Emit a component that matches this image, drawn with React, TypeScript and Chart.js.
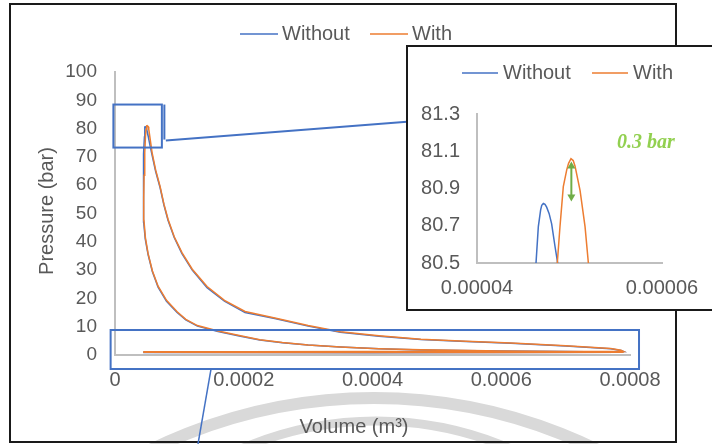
import React, { useEffect, useRef } from "react";
import { Chart, registerables } from "chart.js";

Chart.register(...registerables);

// ---------- Data ----------
const withoutVolume = [
  0.00079, 0.0007, 0.0006, 0.00053, 0.000475, 0.00041, 0.00035, 0.0003, 0.00026, 0.000225, 0.000195, 0.00016,
  0.000128, 0.00011, 0.0000965, 0.00008, 0.0000669, 0.000058, 0.0000514, 0.000047, 0.0000445, 0.0000438,
  0.0000442, 0.000045, 0.0000457, 0.0000462,
  0.00004638, 0.00004663, 0.00004688, 0.000047, 0.00004717, 0.00004735, 0.00004753, 0.0000478, 0.00004807,
  0.00004843, 0.00004872,
  0.0000492, 0.000051, 0.000054, 0.0000571, 0.000063, 0.00007, 0.000076, 0.0000825, 0.000092, 0.000104,
  0.00012, 0.000143, 0.00017, 0.000202, 0.00025, 0.0003, 0.00035, 0.00041, 0.000475, 0.000545, 0.000615,
  0.0007, 0.00077, 0.000786, 0.00079,
  0.0006, 0.0004, 0.0002, 0.000045,
  0.000045, 0.0002, 0.0004, 0.0006, 0.00079,
];
const withoutPressure = [
  1.0, 1.2, 1.4, 1.6, 1.8, 2.2, 2.8, 3.5, 4.3, 5.3, 6.6, 8.3,
  10.2, 12.4, 15.0, 19.0, 24.0, 29.5, 35.5, 41.0, 47.0, 55.0,
  63.0, 71.0, 77.0, 79.8,
  80.5, 80.695, 80.785, 80.81, 80.82, 80.815, 80.8, 80.765, 80.71,
  80.59, 80.5,
  80.0, 78.0, 74.5, 71.2, 65.0, 59.2, 53.0, 47.5, 41.5, 35.8,
  30.0, 23.8, 19.0, 15.0, 12.8, 10.2, 8.0, 6.6, 5.5, 4.8, 4.15,
  3.2, 2.2, 1.6, 1.2,
  1.15, 1.15, 1.1, 1.1,
  0.9, 0.85, 0.8, 0.85, 0.95,
];

const withVolume = [
  0.00079, 0.0007, 0.0006, 0.00053, 0.000475, 0.00041, 0.00035, 0.0003, 0.00026, 0.000225, 0.000195, 0.00016,
  0.000128, 0.00011, 0.0000965, 0.00008, 0.0000669, 0.000058, 0.0000514, 0.0000472, 0.000045, 0.0000446,
  0.0000452, 0.0000462, 0.0000474, 0.0000482,
  0.00004868, 0.00004897, 0.00004933, 0.0000497, 0.0000499, 0.00005016, 0.0000504, 0.0000506, 0.00005114,
  0.00005168, 0.00005204,
  0.0000528, 0.0000548, 0.0000575, 0.0000632, 0.00007, 0.000076, 0.0000825, 0.000092, 0.000104,
  0.00012, 0.000143, 0.00017, 0.000202, 0.00025, 0.0003, 0.00035, 0.00041, 0.000475, 0.000545, 0.000615,
  0.0007, 0.00077, 0.000786, 0.00079,
  0.0006, 0.0004, 0.0002, 0.000045,
  0.000045, 0.0002, 0.0004, 0.0006, 0.00079,
];
const withPressure = [
  1.0, 1.2, 1.45, 1.65, 1.85, 2.25, 2.85, 3.55, 4.4, 5.4, 6.8, 8.5,
  10.4, 12.6, 15.3, 19.3, 24.3, 29.8, 35.8, 41.5, 47.5, 55.5,
  63.5, 71.5, 77.5, 79.8,
  80.5, 80.695, 80.91, 81.0, 81.035, 81.06, 81.05, 81.02, 80.89,
  80.695, 80.5,
  79.8, 76.0, 71.6, 65.3, 59.6, 53.3, 47.9, 41.8, 36.2,
  30.3, 24.2, 19.3, 15.4, 13.0, 10.4, 8.2, 6.8, 5.6, 4.9, 4.25,
  3.3, 2.3, 1.7, 1.25,
  1.2, 1.2, 1.15, 1.15,
  0.95, 0.9, 0.85, 0.9, 1.0,
];

const seriesNames = ["Without", "With"];
const seriesColors = ["#4472C4", "#ED7D31"];

const mainXTicks = [0, 0.0002, 0.0004, 0.0006, 0.0008];
const mainXTickLabels = ["0", "0.0002", "0.0004", "0.0006", "0.0008"];
const mainYTicks = [0, 10, 20, 30, 40, 50, 60, 70, 80, 90, 100];
const mainYTickLabels = ["0", "10", "20", "30", "40", "50", "60", "70", "80", "90", "100"];

const insetXTicks = [0.00004, 0.00006];
const insetXTickLabels = ["0.00004", "0.00006"];
const insetYTicks = [80.5, 80.7, 80.9, 81.1, 81.3];
const insetYTickLabels = ["80.5", "80.7", "80.9", "81.1", "81.3"];

const xTitle = "Volume (m³)";
const yTitle = "Pressure (bar)";
const diffLabel = "0.3 bar";
// arrow between the two peaks (volume, top pressure, bottom pressure)
const arrowVolume = 0.0000502;
const arrowTop = 81.045;
const arrowBottom = 80.83;

// zoom boxes in data coordinates
const peakBox = { v0: -0.0000025, v1: 0.0000728, p0: 73.3, p1: 88.5 };
const lowBox = { v0: -0.0000068, v1: 0.000814, p0: -4.95, p1: 8.83 };

const FONT = "'Liberation Sans', Arial, sans-serif";
const TEXT = "#595959";
const AXIS = "#BFBFBF";
const BOX = "#4472C4";

function zip(v: number[], p: number[]) {
  return v.map((x, i) => ({ x, y: p[i] }));
}

function makeDatasets() {
  return [
    {
      label: seriesNames[0],
      data: zip(withoutVolume, withoutPressure),
      showLine: true,
      borderColor: seriesColors[0],
      backgroundColor: seriesColors[0],
      borderWidth: 1.5,
      pointRadius: 0,
      tension: 0,
      order: 1,
    },
    {
      label: seriesNames[1],
      data: zip(withVolume, withPressure),
      showLine: true,
      borderColor: seriesColors[1],
      backgroundColor: seriesColors[1],
      borderWidth: 1.5,
      pointRadius: 0,
      tension: 0,
      order: 0,
    },
  ];
}

function drawLegend(ctx: CanvasRenderingContext2D, y: number, items: { x1: number; x2: number; tx: number }[]) {
  ctx.save();
  ctx.font = `20px ${FONT}`;
  ctx.textBaseline = "middle";
  ctx.textAlign = "left";
  items.forEach((it, i) => {
    ctx.strokeStyle = seriesColors[i];
    ctx.lineWidth = 1.5;
    ctx.beginPath();
    ctx.moveTo(it.x1, y);
    ctx.lineTo(it.x2, y);
    ctx.stroke();
    ctx.fillStyle = TEXT;
    ctx.fillText(seriesNames[i], it.tx, y);
  });
  ctx.restore();
}

const mainDecor = {
  id: "mainDecor",
  beforeDraw(chart: any) {
    const ctx = chart.ctx;
    ctx.save();
    ctx.fillStyle = "#ffffff";
    ctx.fillRect(0, 0, chart.width, chart.height);
    ctx.strokeStyle = "#d9d9d9";
    ctx.lineWidth = 12;
    ctx.beginPath();
    ctx.arc(374, 905, 507, Math.PI, 2 * Math.PI);
    ctx.stroke();
    ctx.lineWidth = 9;
    ctx.beginPath();
    ctx.arc(376, 761, 340, Math.PI, 2 * Math.PI);
    ctx.stroke();
    ctx.restore();
  },
  afterDraw(chart: any) {
    const ctx = chart.ctx;
    const xs = chart.scales.x;
    const ys = chart.scales.y;
    ctx.save();
    // outer frame
    ctx.strokeStyle = "#1a1a1a";
    ctx.lineWidth = 2;
    ctx.strokeRect(10, 4, 666, 438);

    // legend
    drawLegend(ctx, 34, [
      { x1: 240, x2: 278, tx: 282 },
      { x1: 370, x2: 408, tx: 412 },
    ]);

    // axis titles
    ctx.fillStyle = TEXT;
    ctx.font = `20px ${FONT}`;
    ctx.textAlign = "center";
    ctx.textBaseline = "middle";
    ctx.fillText(xTitle, 354, 427);
    ctx.save();
    ctx.translate(47, 211);
    ctx.rotate(-Math.PI / 2);
    ctx.fillText(yTitle, 0, 0);
    ctx.restore();

    // zoom boxes
    ctx.strokeStyle = BOX;
    ctx.lineWidth = 2;
    const bx0 = xs.getPixelForValue(peakBox.v0);
    const bx1 = xs.getPixelForValue(peakBox.v1);
    const by0 = ys.getPixelForValue(peakBox.p1);
    const by1 = ys.getPixelForValue(peakBox.p0);
    ctx.strokeRect(bx0, by0, bx1 - bx0, by1 - by0);
    ctx.beginPath();
    ctx.moveTo(bx1 + 2.5, by0);
    ctx.lineTo(bx1 + 2.5, by1 - 8);
    ctx.stroke();
    ctx.beginPath();
    ctx.moveTo(bx1 + 4, by1 - 7);
    ctx.lineTo(407, 121.7);
    ctx.stroke();

    const lx0 = xs.getPixelForValue(lowBox.v0);
    const lx1 = xs.getPixelForValue(lowBox.v1);
    const ly0 = ys.getPixelForValue(lowBox.p1);
    const ly1 = ys.getPixelForValue(lowBox.p0);
    ctx.strokeRect(lx0, ly0, lx1 - lx0, ly1 - ly0);
    ctx.lineWidth = 1.5;
    ctx.beginPath();
    ctx.moveTo(211, ly1);
    ctx.lineTo(198, 444);
    ctx.stroke();
    ctx.restore();
  },
};

const insetDecor = {
  id: "insetDecor",
  beforeDraw(chart: any) {
    const ctx = chart.ctx;
    ctx.save();
    ctx.fillStyle = "#ffffff";
    ctx.fillRect(0, 0, chart.width, chart.height);
    ctx.restore();
  },
  afterDraw(chart: any) {
    const ctx = chart.ctx;
    const xs = chart.scales.x;
    const ys = chart.scales.y;
    ctx.save();
    ctx.strokeStyle = "#1a1a1a";
    ctx.lineWidth = 2;
    ctx.strokeRect(1, 1, 400, 264);

    drawLegend(ctx, 28, [
      { x1: 56, x2: 92, tx: 97 },
      { x1: 186, x2: 222, tx: 227 },
    ]);

    // arrow
    const ax = xs.getPixelForValue(arrowVolume);
    const at = ys.getPixelForValue(arrowTop);
    const ab = ys.getPixelForValue(arrowBottom);
    ctx.strokeStyle = "#70AD47";
    ctx.fillStyle = "#70AD47";
    ctx.lineWidth = 2;
    ctx.beginPath();
    ctx.moveTo(ax, at + 5);
    ctx.lineTo(ax, ab - 5);
    ctx.stroke();
    ctx.beginPath();
    ctx.moveTo(ax, at);
    ctx.lineTo(ax - 4, at + 7);
    ctx.lineTo(ax + 4, at + 7);
    ctx.closePath();
    ctx.fill();
    ctx.beginPath();
    ctx.moveTo(ax, ab);
    ctx.lineTo(ax - 4, ab - 7);
    ctx.lineTo(ax + 4, ab - 7);
    ctx.closePath();
    ctx.fill();

    ctx.fillStyle = "#92D050";
    ctx.font = `italic bold 20px 'Liberation Serif', 'Times New Roman', serif`;
    ctx.textAlign = "left";
    ctx.textBaseline = "middle";
    ctx.fillText(diffLabel, 211, 98);
    ctx.restore();
  },
};

function axisOptions(
  min: number,
  max: number,
  ticks: number[],
  labels: string[],
  size: number,
  pad: number,
  fit: (s: any) => void
) {
  return {
    type: "linear",
    min,
    max,
    afterBuildTicks: (s: any) => {
      s.ticks = ticks.map((v) => ({ value: v }));
    },
    afterFit: fit,
    grid: { display: false, drawTicks: false },
    border: { display: true, color: AXIS, width: 2 },
    ticks: {
      padding: pad,
      color: TEXT,
      font: { family: FONT, size },
      callback: (_v: any, i: number) => labels[i],
    },
  };
}

export default function App() {
  const mainRef = useRef<HTMLCanvasElement>(null);
  const insetRef = useRef<HTMLCanvasElement>(null);

  useEffect(() => {
    const main = new Chart(mainRef.current as HTMLCanvasElement, {
      type: "scatter",
      data: { datasets: makeDatasets() as any },
      options: {
        animation: false,
        responsive: false,
        devicePixelRatio: 1,
        layout: { padding: { left: 0, right: 82, top: 72, bottom: 0 } },
        plugins: { legend: { display: false }, tooltip: { enabled: false }, title: { display: false } },
        scales: {
          x: axisOptions(0, 0.0008, mainXTicks, mainXTickLabels, 20, 13, (s: any) => {
            s.height = 89;
          }) as any,
          y: axisOptions(0, 100, mainYTicks, mainYTickLabels, 19, 18, (s: any) => {
            s.width = 115;
          }) as any,
        },
      },
      plugins: [mainDecor],
    });

    const inset = new Chart(insetRef.current as HTMLCanvasElement, {
      type: "scatter",
      data: { datasets: makeDatasets() as any },
      options: {
        animation: false,
        responsive: false,
        devicePixelRatio: 1,
        layout: { padding: { left: 0, right: 50, top: 69, bottom: 0 } },
        plugins: { legend: { display: false }, tooltip: { enabled: false }, title: { display: false } },
        scales: {
          x: axisOptions(0.00004, 0.00006, insetXTicks, insetXTickLabels, 20, 13, (s: any) => {
            s.height = 48;
          }) as any,
          y: axisOptions(80.5, 81.3, insetYTicks, insetYTickLabels, 20, 17, (s: any) => {
            s.width = 71;
          }) as any,
        },
      },
      plugins: [insetDecor],
    });

    return () => {
      main.destroy();
      inset.destroy();
    };
  }, []);

  return (
    <div style={{ position: "absolute", left: 0, top: 0, width: 712, height: 444, background: "#fff", overflow: "hidden" }}>
      <canvas ref={mainRef} width={712} height={444} style={{ position: "absolute", left: 0, top: 0, width: 712, height: 444 }} />
      <canvas ref={insetRef} width={306} height={266} style={{ position: "absolute", left: 406, top: 45, width: 306, height: 266 }} />
    </div>
  );
}
